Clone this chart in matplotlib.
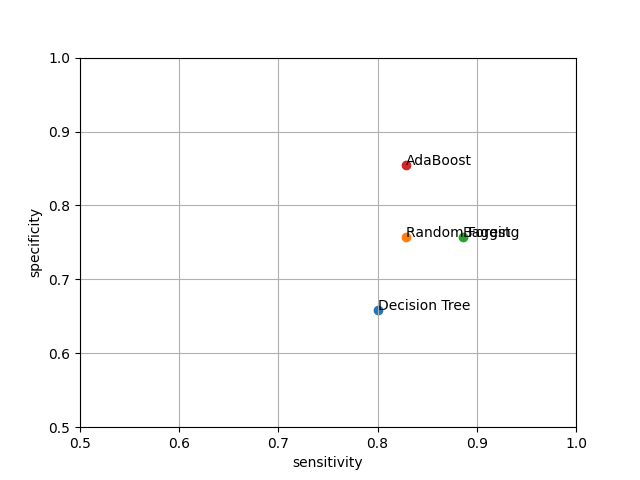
import matplotlib
matplotlib.use("Agg")
import matplotlib.pyplot as plt

models = ["Decision Tree", "Random Forest", "Bagging", "AdaBoost"]
sensitivity = [0.80, 0.829, 0.886, 0.829]
specificity = [0.659, 0.757, 0.757, 0.855]

fig, ax = plt.subplots(figsize=(6.4, 4.8), dpi=100)
for name, x, y in zip(models, sensitivity, specificity):
    ax.scatter(x, y)
    ax.annotate(name, (x, y))

ax.set_xlim(0.5, 1.0)
ax.set_ylim(0.5, 1.0)
ax.set_xlabel("sensitivity")
ax.set_ylabel("specificity")
ax.grid(True)
fig.savefig("out.png")
